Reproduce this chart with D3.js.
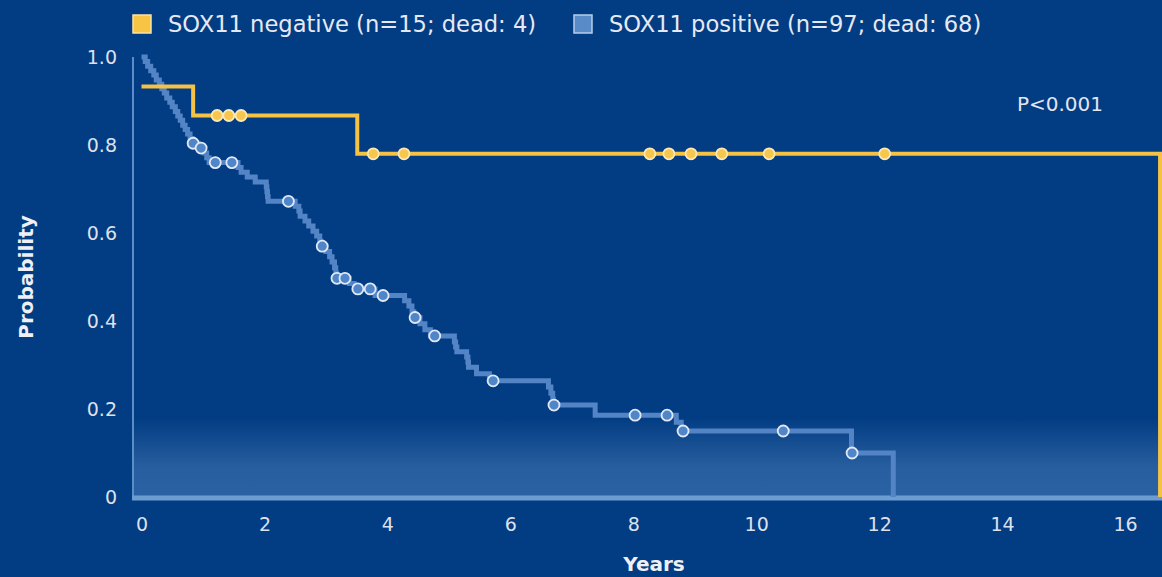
<!DOCTYPE html>
<html>
<head>
<meta charset="utf-8">
<script src="https://cdn.jsdelivr.net/npm/d3@7"></script>
<style>
  html, body { margin: 0; padding: 0; background: #023c82; }
  svg { display: block; }
</style>
</head>
<body>
<svg id="chart" width="1162" height="577"></svg>
<script>
// Axis ticks
const yearTicks = [0, 2, 4, 6, 8, 10, 12, 14, 16];
const probTicks = [0, 0.2, 0.4, 0.6, 0.8, 1.0];
const probTickLabels = ["0", "0.2", "0.4", "0.6", "0.8", "1.0"];

// Legend entries
const groupNames = ["SOX11 negative (n=15; dead: 4)", "SOX11 positive (n=97; dead: 68)"];

// Kaplan-Meier steps: [years, survival after the event]
const negSteps = [[0, 0.933], [0.84, 0.867], [3.51, 0.78], [16.57, 0]];
const negCensored = [1.23, 1.42, 1.62, 3.77, 4.27, 8.27, 8.58, 8.94, 9.44, 10.21, 12.09];

const posSteps = [
  [0, 1.0],
  [0.06, 0.990], [0.10, 0.979], [0.15, 0.969], [0.20, 0.959], [0.24, 0.948],
  [0.29, 0.938], [0.33, 0.928], [0.37, 0.918], [0.41, 0.907], [0.46, 0.897],
  [0.50, 0.887], [0.55, 0.876], [0.59, 0.866], [0.63, 0.856], [0.67, 0.845],
  [0.71, 0.835], [0.75, 0.825], [0.79, 0.814], [0.83, 0.804],
  [0.92, 0.793],
  [1.02, 0.782], [1.06, 0.771], [1.10, 0.760],
  [1.57, 0.749], [1.62, 0.738], [1.72, 0.727], [1.85, 0.716],
  [2.03, 0.705], [2.04, 0.694], [2.05, 0.683], [2.06, 0.672],
  [2.50, 0.661], [2.56, 0.650], [2.58, 0.638], [2.66, 0.627], [2.72, 0.616],
  [2.79, 0.604], [2.85, 0.593], [2.90, 0.581], [2.92, 0.570],
  [3.00, 0.558], [3.06, 0.546], [3.10, 0.534], [3.14, 0.521], [3.16, 0.509], [3.17, 0.497],
  [3.38, 0.485], [3.46, 0.473],
  [3.80, 0.458],
  [4.28, 0.446], [4.35, 0.434], [4.40, 0.421], [4.43, 0.408],
  [4.53, 0.394], [4.61, 0.380], [4.70, 0.366],
  [5.09, 0.352], [5.11, 0.341], [5.13, 0.330],
  [5.29, 0.318], [5.31, 0.307], [5.32, 0.295],
  [5.45, 0.280],
  [5.66, 0.264],
  [6.62, 0.250], [6.66, 0.236], [6.69, 0.222], [6.70, 0.209],
  [7.38, 0.186],
  [8.70, 0.170], [8.78, 0.150],
  [11.55, 0.100],
  [12.23, 0]
];
const posCensored = [0.84, 0.97, 1.20, 1.47, 2.39, 2.94, 3.18, 3.31, 3.52, 3.72, 3.93,
  4.45, 4.77, 5.72, 6.71, 8.03, 8.55, 8.81, 10.44, 11.56];

const pValueText = "P<0.001";

// ---------------------------------------------------------------
const svg = d3.select("#chart");
const W = 1162, H = 577;
const BG = "#023c82";
const FONT = "'DejaVu Sans', Verdana, sans-serif";

const x = d3.scaleLinear().domain([0, 16.6]).range([141.5, 141.5 + 16.6 * 61.47]);
const y = d3.scaleLinear().domain([0, 1]).range([497, 57]);

const axisX = 133;

svg.append("rect").attr("width", W).attr("height", H).attr("fill", BG);

// Lighter band along the bottom of the plot area
const defs = svg.append("defs");
const grad = defs.append("linearGradient").attr("id", "floor")
  .attr("x1", 0).attr("y1", 0).attr("x2", 0).attr("y2", 1);
grad.append("stop").attr("offset", "0%").attr("stop-color", BG);
grad.append("stop").attr("offset", "62%").attr("stop-color", "#275e9f");
grad.append("stop").attr("offset", "100%").attr("stop-color", "#2a62a3");
svg.append("rect")
  .attr("x", axisX).attr("y", y(0.18))
  .attr("width", W - axisX).attr("height", y(0) - y(0.18))
  .attr("fill", "url(#floor)");

// Axis lines
svg.append("line")
  .attr("x1", axisX).attr("x2", axisX)
  .attr("y1", y(1)).attr("y2", y(0))
  .attr("stroke", "#5b8dc8").attr("stroke-width", 2);
svg.append("line")
  .attr("x1", axisX - 1).attr("x2", W)
  .attr("y1", y(0) + 1).attr("y2", y(0) + 1)
  .attr("stroke", "#6c9dd1").attr("stroke-width", 5);

// Y tick labels
const yAxis = d3.axisLeft(y).tickValues(probTicks)
  .tickFormat((d, i) => probTickLabels[i]).tickSize(0).tickPadding(0);
const gy = svg.append("g").attr("transform", `translate(117,0)`).call(yAxis);
gy.select(".domain").remove();
gy.selectAll("text").attr("font-family", FONT).attr("font-size", 19)
  .attr("fill", "#dde1ec").attr("dy", "0.36em");

// X tick labels
const xAxis = d3.axisBottom(x).tickValues(yearTicks).tickFormat(d3.format("d"))
  .tickSize(0).tickPadding(0);
const gx = svg.append("g").attr("transform", `translate(0,517)`).call(xAxis);
gx.select(".domain").remove();
gx.selectAll("text").attr("font-family", FONT).attr("font-size", 19)
  .attr("fill", "#dde1ec").attr("dy", "0.71em");

// Axis titles
svg.append("text")
  .attr("transform", `translate(33,${y(0.5)}) rotate(-90)`)
  .attr("text-anchor", "middle")
  .attr("font-family", FONT).attr("font-weight", "bold").attr("font-size", 20)
  .attr("fill", "#eef0f6").text("Probability");
svg.append("text")
  .attr("x", 654).attr("y", 571).attr("text-anchor", "middle")
  .attr("font-family", FONT).attr("font-weight", "bold").attr("font-size", 20)
  .attr("fill", "#eef0f6").text("Years");

// Survival curves
const stepLine = d3.line()
  .x(d => x(d[0])).y(d => y(d[1]))
  .curve(d3.curveStepAfter);

function survivalAt(steps, t) {
  const i = d3.bisector(d => d[0]).right(steps, t) - 1;
  return steps[Math.max(0, i)][1];
}

const series = [
  { steps: posSteps, censored: posCensored, line: "#5284c6", width: 5,
    fill: "#4f85c9", ring: "#e2e9f5" },
  { steps: negSteps, censored: negCensored, line: "#f5c245", width: 4,
    fill: "#f7c64c", ring: "#fde9b6" }
];

series.forEach(s => {
  svg.append("path")
    .attr("d", stepLine(s.steps))
    .attr("fill", "none")
    .attr("stroke", s.line)
    .attr("stroke-width", s.width)
    .attr("stroke-linejoin", "miter");
});

series.forEach(s => {
  svg.append("g").selectAll("circle")
    .data(s.censored)
    .join("circle")
    .attr("cx", d => x(d))
    .attr("cy", d => y(survivalAt(s.steps, d)))
    .attr("r", 5.5)
    .attr("fill", s.fill)
    .attr("stroke", s.ring)
    .attr("stroke-width", 1.8);
});

// P value
svg.append("text")
  .attr("x", 1060).attr("y", 111).attr("text-anchor", "middle")
  .attr("font-family", FONT).attr("font-size", 20)
  .attr("fill", "#e3e6f0").text(pValueText);

// Legend
const legendItems = [
  { name: groupNames[0], x: 133, fill: "#f7c543", ring: "#fbe2a2" },
  { name: groupNames[1], x: 574, fill: "#5a8bc9", ring: "#b8cde9" }
];
const lg = svg.append("g");
legendItems.forEach(item => {
  lg.append("rect")
    .attr("x", item.x).attr("y", 15).attr("width", 18).attr("height", 18)
    .attr("fill", item.fill).attr("stroke", item.ring).attr("stroke-width", 1.5);
  lg.append("text")
    .attr("x", item.x + 35).attr("y", 32)
    .attr("font-family", FONT).attr("font-size", 22.6)
    .attr("fill", "#e6e9f3").text(item.name);
});
</script>
</body>
</html>
